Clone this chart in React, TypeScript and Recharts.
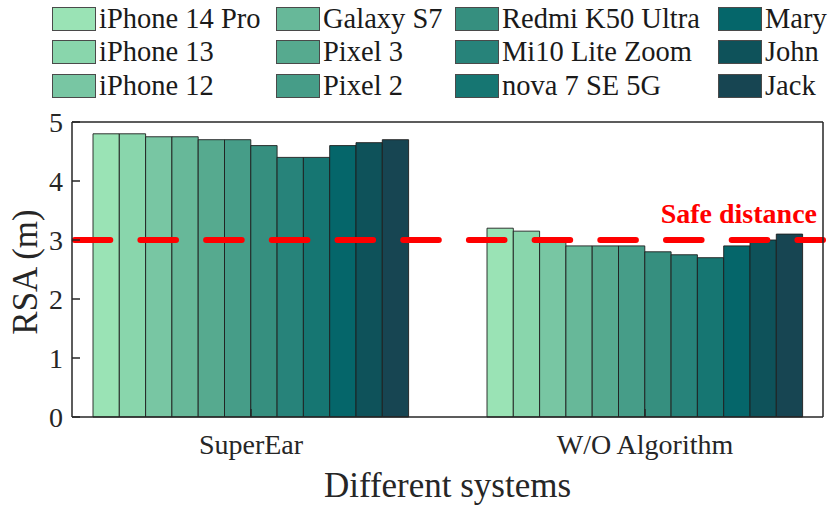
import React from "react";
import { Bar, BarChart, ReferenceLine, XAxis, YAxis } from "recharts";

const categories = ["SuperEar", "W/O Algorithm"];
const devices = [
  "iPhone 14 Pro",
  "iPhone 13",
  "iPhone 12",
  "Galaxy S7",
  "Pixel 3",
  "Pixel 2",
  "Redmi K50 Ultra",
  "Mi10 Lite Zoom",
  "nova 7 SE 5G",
  "Mary",
  "John",
  "Jack",
];
const superEarRsa = [4.8, 4.8, 4.75, 4.75, 4.7, 4.7, 4.6, 4.4, 4.4, 4.6, 4.65, 4.7];
const withoutAlgorithmRsa = [3.2, 3.15, 3.0, 2.9, 2.9, 2.9, 2.8, 2.75, 2.7, 2.9, 3.0, 3.1];
const deviceColors = [
  "#9ae3b5",
  "#89d6ac",
  "#78c6a3",
  "#67b899",
  "#56aa8f",
  "#469d88",
  "#368f7f",
  "#27837a",
  "#167672",
  "#05666a",
  "#0e525a",
  "#174552",
];
const rsaTicks = [0, 1, 2, 3, 4, 5];
const safeDistance = 3;

const seriesByCategory = [superEarRsa, withoutAlgorithmRsa];
const data = categories.map((name, ci) => {
  const row: Record<string, string | number> = { name };
  devices.forEach((d, i) => {
    row[d] = seriesByCategory[ci][i];
  });
  return row;
});

const FONT = '"Liberation Serif", "Times New Roman", Times, serif';
const INK = "#262626";

// legend grid: 4 columns, 3 rows, filled column by column
const legendColLeft = [52, 276, 455, 718];
const legendRowTop = [7, 40, 74];

function YTitle({ viewBox }: any) {
  const cx = 25;
  const cy = viewBox ? viewBox.y + viewBox.height / 2 + 2.5 : 272;
  return (
    <text
      x={cx}
      y={cy}
      transform={`rotate(-90 ${cx} ${cy})`}
      textAnchor="middle"
      dominantBaseline="central"
      fontSize={35}
      fontFamily={FONT}
      fill={INK}
    >
      RSA (m)
    </text>
  );
}

function XTitle({ viewBox }: any) {
  const cx = viewBox ? viewBox.x + viewBox.width / 2 : 447;
  return (
    <text x={cx} y={497} textAnchor="middle" fontSize={35} fontFamily={FONT} fill={INK}>
      Different systems
    </text>
  );
}

function SafeLabel({ viewBox }: any) {
  const right = viewBox ? viewBox.x + viewBox.width - 6 : 817;
  const y = viewBox ? viewBox.y - 17 : 223;
  return (
    <text
      x={right}
      y={y}
      textAnchor="end"
      fontSize={28}
      fontWeight="bold"
      fontFamily={FONT}
      fill="#ff0000"
    >
      Safe distance
    </text>
  );
}

function DeviceLegend() {
  return (
    <>
      {devices.map((d, i) => (
        <div
          key={d}
          style={{
            position: "absolute",
            left: legendColLeft[Math.floor(i / 3)],
            top: legendRowTop[i % 3],
            height: 24,
            display: "flex",
            alignItems: "center",
            whiteSpace: "nowrap",
          }}
        >
          <span
            style={{
              display: "inline-block",
              width: 42,
              height: 22,
              background: deviceColors[i],
              border: "1px solid #4a4a4a",
            }}
          />
          <span
            style={{
              marginLeft: 3,
              fontFamily: FONT,
              fontSize: 28.5,
              lineHeight: "24px",
              color: "#1a1a1a",
            }}
          >
            {d}
          </span>
        </div>
      ))}
    </>
  );
}

export default function App() {
  const axisLine = { stroke: INK, strokeWidth: 1.5 };
  const tickLine = { stroke: INK, strokeWidth: 1.5 };
  const tickStyle = { fontSize: 28, fontFamily: FONT, fill: INK };

  return (
    <div
      style={{
        position: "absolute",
        left: 0,
        top: 0,
        width: 830,
        height: 512,
        background: "#fff",
        overflow: "hidden",
      }}
    >
      <DeviceLegend />
      <BarChart
        width={830}
        height={512}
        data={data}
        margin={{ top: 121, right: 0, bottom: 0, left: 0 }}
        barSize={26.3}
        barGap={0}
        style={{ position: "absolute", left: 0, top: 0 }}
      >
        <XAxis
          dataKey="name"
          height={95}
          padding={{ left: -18, right: -19 }}
          axisLine={axisLine}
          tickLine={tickLine}
          tickSize={-8}
          tickMargin={25}
          tick={tickStyle}
          interval={0}
          label={<XTitle />}
        />
        <XAxis
          xAxisId="top"
          orientation="top"
          dataKey="name"
          height={1}
          padding={{ left: -18, right: -19 }}
          axisLine={axisLine}
          tickLine={tickLine}
          tickSize={-8}
          tick={false}
          interval={0}
        />
        <YAxis
          width={72}
          domain={[0, 5]}
          ticks={rsaTicks}
          interval={0}
          axisLine={axisLine}
          tickLine={tickLine}
          tickSize={-8}
          tickMargin={17}
          tick={tickStyle}
          label={<YTitle />}
        />
        <YAxis
          yAxisId="right"
          orientation="right"
          width={7}
          domain={[0, 5]}
          ticks={rsaTicks}
          interval={0}
          axisLine={axisLine}
          tickLine={tickLine}
          tickSize={-8}
          tick={false}
        />
        {devices.map((d, i) => (
          <Bar
            key={d}
            dataKey={d}
            fill={deviceColors[i]}
            stroke="#1e1e1e"
            strokeWidth={0.9}
            isAnimationActive={false}
          />
        ))}
        <ReferenceLine
          y={safeDistance}
          stroke="#ff0000"
          strokeWidth={6}
          strokeDasharray="35.6 30.1"
          strokeDashoffset={-2.7}
          strokeLinecap="round"
          label={<SafeLabel />}
        />
      </BarChart>
    </div>
  );
}
